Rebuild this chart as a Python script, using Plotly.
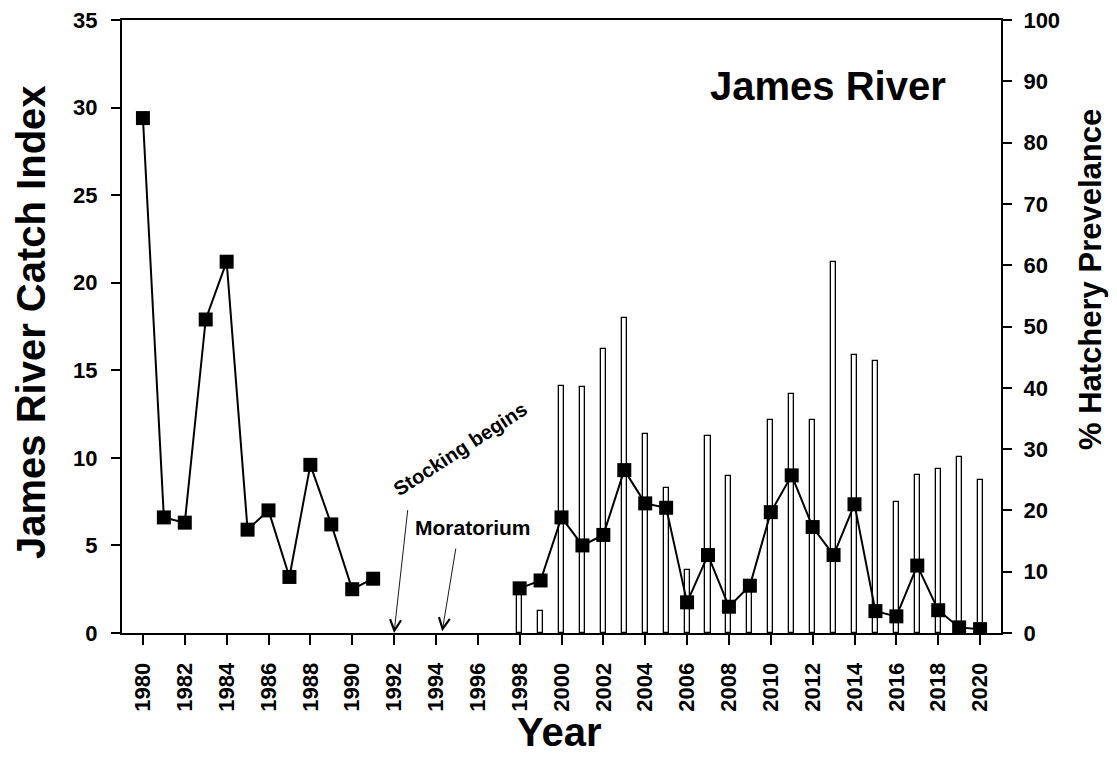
import plotly.graph_objects as go

# ---- data ----
catch_years_early = [1980, 1981, 1982, 1983, 1984, 1985, 1986, 1987, 1988, 1989, 1990, 1991]
catch_early = [29.4, 6.6, 6.3, 17.9, 21.2, 5.9, 7.0, 3.2, 9.6, 6.2, 2.5, 3.1]

catch_years_late = list(range(1998, 2021))
catch_late = [2.55, 3.0, 6.6, 5.0, 5.6, 9.3, 7.4, 7.15, 1.75, 4.45, 1.5, 2.7,
              6.9, 9.0, 6.05, 4.45, 7.35, 1.25, 0.95, 3.85, 1.3, 0.32, 0.22]

hatch_years = list(range(1998, 2021))
hatch_pct = [7.4, 3.6, 40.3, 40.1, 46.4, 51.4, 32.5, 23.7, 10.2, 32.1, 25.6, 8.0,
             34.8, 39.0, 34.8, 60.5, 45.4, 44.4, 21.3, 25.7, 26.7, 28.7, 25.0]

x_ticks = list(range(1980, 2021, 2))
x_ticklabels = [str(v) for v in x_ticks]

# combined line series with a gap between 1991 and 1998
line_x = catch_years_early + [None] + catch_years_late
line_y = catch_early + [None] + catch_late

FONT = "Liberation Sans, Arial, sans-serif"

fig = go.Figure()

fig.add_trace(go.Bar(
    x=hatch_years, y=hatch_pct, yaxis="y", width=0.24,
    marker=dict(color="white", line=dict(color="black", width=1.3)),
    showlegend=False,
))

fig.add_trace(go.Scatter(
    x=line_x, y=line_y, yaxis="y2", mode="lines+markers",
    line=dict(color="black", width=2),
    marker=dict(symbol="square", size=14, color="black"),
    connectgaps=False, showlegend=False,
))

tickfont = dict(family=FONT, size=22, color="black", weight="bold")

# plot area on screen: x 122..1001, y 20..633
TOP, BOT, LEFT, RIGHT = 20, 633, 122, 1001

fig.update_layout(
    width=1117, height=757,
    margin=dict(l=114, r=124, t=12, b=132),
    paper_bgcolor="white", plot_bgcolor="white",
    font=dict(family=FONT, color="black"),
    bargap=0,
    xaxis=dict(
        range=[1979, 2021], tickmode="array", tickvals=x_ticks, ticktext=x_ticklabels,
        tickangle=-90, ticks="outside", ticklen=10, tickwidth=1.8, tickcolor="black",
        showline=True, linewidth=2, linecolor="black", mirror=True,
        showgrid=False, zeroline=False, automargin=False,
        tickfont=dict(family=FONT, size=22, color="black", weight="bold"),
        ticklabelstandoff=9, ticklabeloverflow="allow",
    ),
    yaxis=dict(
        range=[0, 100], dtick=10, side="right",
        ticks="outside", ticklen=9, tickwidth=1.8, tickcolor="black",
        showline=True, linewidth=2, linecolor="black",
        showgrid=False, zeroline=False, automargin=False,
        tickfont=tickfont, ticklabelstandoff=7, ticklabeloverflow="allow",
    ),
    yaxis2=dict(
        range=[0, 35], dtick=5, side="left", overlaying="y",
        ticks="outside", ticklen=9, tickwidth=1.8, tickcolor="black",
        showline=True, linewidth=2, linecolor="black",
        showgrid=False, zeroline=False, automargin=False,
        tickfont=tickfont, ticklabelstandoff=9, ticklabeloverflow="allow",
    ),
)


def px(sx):
    return (sx - LEFT) / float(RIGHT - LEFT)


def py(sy):
    return (BOT - sy) / float(BOT - TOP)


annotations = [
    # axis titles
    dict(x=px(559), y=py(732), xref="paper", yref="paper", text="<b>Year</b>", showarrow=False,
         xanchor="center", yanchor="middle", font=dict(family=FONT, size=40, color="black")),
    dict(x=px(31), y=py(322), xref="paper", yref="paper", text="<b>James River Catch Index</b>",
         showarrow=False, textangle=-90, xanchor="center", yanchor="middle",
         font=dict(family=FONT, size=40, color="black")),
    dict(x=px(1090), y=py(280), xref="paper", yref="paper", text="<b>% Hatchery Prevelance</b>",
         showarrow=False, textangle=-90, xanchor="center", yanchor="middle",
         font=dict(family=FONT, size=31, color="black")),
    # in-plot text
    dict(x=2012.73, y=31.25, xref="x", yref="y2", text="<b>James River</b>", showarrow=False,
         xanchor="center", yanchor="middle", font=dict(family=FONT, size=40, color="black")),
    dict(x=1995.77, y=6.0, xref="x", yref="y2", text="<b>Moratorium</b>", showarrow=False,
         xanchor="center", yanchor="middle", font=dict(family=FONT, size=21, color="black")),
    dict(x=1995.15, y=10.5, xref="x", yref="y2", text="<b>Stocking begins</b>", showarrow=False,
         xanchor="center", yanchor="middle", textangle=-33,
         font=dict(family=FONT, size=20, color="black")),
    # arrows
    dict(x=1992.0, y=0.0, xref="x", yref="y2", ax=1992.66, ay=7.1, axref="x", ayref="y2",
         text="", showarrow=True, arrowhead=5, arrowsize=2.4, arrowwidth=0.9, arrowcolor="black"),
    dict(x=1994.3, y=0.1, xref="x", yref="y2", ax=1994.96, ay=4.9, axref="x", ayref="y2",
         text="", showarrow=True, arrowhead=5, arrowsize=2.4, arrowwidth=0.9, arrowcolor="black"),
]
fig.update_layout(annotations=annotations)

fig.write_html("out.html")
